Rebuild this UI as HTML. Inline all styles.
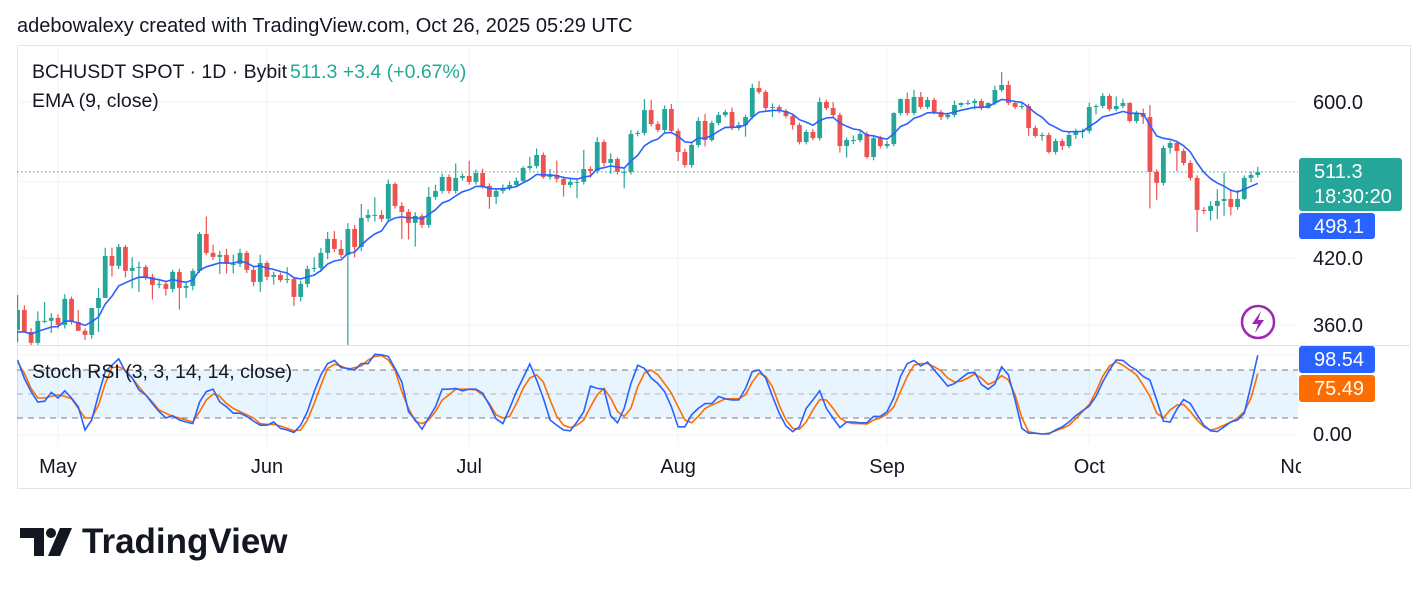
<!DOCTYPE html>
<html><head><meta charset="utf-8"><style>
body{margin:0;background:#fff;width:1428px;height:591px;overflow:hidden;font-family:"Liberation Sans",sans-serif}
svg{display:block}
text{font-family:"Liberation Sans",sans-serif}
</style></head><body>
<svg id="chart" width="1428" height="591" viewBox="0 0 1428 591">
<text x="17" y="32" font-size="20" fill="#131722">adebowalexy created with TradingView.com, Oct 26, 2025 05:29 UTC</text>
<rect x="17.5" y="45.5" width="1393" height="443" fill="none" stroke="#e0e3eb"/>
<g id="grid"></g>
<rect x="17" y="370" width="1281" height="48" fill="#2196f3" fill-opacity="0.1"/>
<line x1="17" x2="1298" y1="370" y2="370" stroke="#787b86" stroke-dasharray="6,5"/>
<line x1="17" x2="1298" y1="394" y2="394" stroke="#b2b5be" stroke-dasharray="6,5"/>
<line x1="17" x2="1298" y1="418" y2="418" stroke="#787b86" stroke-dasharray="6,5"/>
<line x1="17" x2="1411" y1="345.5" y2="345.5" stroke="#e0e3eb"/>
<g id="candles"></g>
<g id="lines"></g>
<text x="32" y="78" font-size="19.5" fill="#131722">BCHUSDT SPOT · 1D · Bybit</text>
<text x="290" y="78" font-size="19.5" fill="#22ab94">511.3  +3.4 (+0.67%)</text>
<text x="32" y="107" font-size="19.5" fill="#131722">EMA (9, close)</text>
<text x="32" y="378" font-size="19.5" fill="#131722">Stoch RSI (3, 3, 14, 14, close)</text>
<g id="axis"></g>
<circle cx="1258" cy="322" r="16" fill="#fff" stroke="#9c27b0" stroke-width="2.5"/>
<path d="M1261 311 L1252 324 L1258 324 L1255 333 L1264 320 L1258 320 Z" fill="#9c27b0"/>
<g>
<path d="M20 528 H44 V556 H34 V538 H20 Z" fill="#131722"/>
<circle cx="51" cy="533" r="5" fill="#131722"/>
<path d="M60 528 H72 L60 556 H48 Z" fill="#131722"/>
<text x="82" y="553" font-size="35" font-weight="bold" fill="#131722">TradingView</text>
</g>
</svg>
<script>
const firstOpen = 356.2;
const closes = [372.8,354.6,345.8,363.6,363.6,366.1,360.3,382.4,362.7,355.4,352.1,374.5,383.2,421.8,412.4,430.6,407.7,410.5,411.4,402.1,394.8,395.7,391.2,406.7,392.1,393.9,407.7,443.6,424.8,420.9,422.8,414.2,414.2,424.8,408.6,397.5,415.1,402.1,403.9,399.3,400.2,384.1,395.7,409.5,410.5,424.8,438.6,428.7,422.8,448.7,430.6,460.2,463.4,463.4,459.2,497.4,473.0,466.6,455.0,462.3,452.9,482.9,489.5,505.4,489.5,504.3,506.6,499.7,510.0,495.2,482.9,489.5,492.9,496.3,500.9,515.9,518.3,531.5,505.4,507.7,503.1,496.3,499.7,499.7,514.7,512.4,547.5,521.9,526.6,511.3,511.3,557.7,559.0,589.1,570.5,562.8,590.4,561.5,535.2,519.5,543.8,574.5,550.0,571.8,582.4,586.4,565.4,569.2,579.7,619.5,613.9,591.8,593.2,587.8,581.0,569.2,547.5,560.2,552.5,600.0,591.8,582.4,542.5,550.0,550.0,557.7,529.1,552.5,542.5,545.0,585.0,604.1,585.0,606.9,593.2,602.8,586.4,579.7,582.4,595.9,598.6,598.6,601.4,591.8,598.6,616.7,623.8,598.6,593.2,594.5,565.4,555.1,556.4,535.2,548.8,542.5,556.4,561.5,561.5,593.2,594.5,608.3,590.4,594.5,598.6,574.5,585.0,579.7,511.3,498.6,540.1,546.3,536.4,521.9,504.3,468.7,467.6,473.0,478.4,480.6,471.9,480.6,504.3,507.7,511.3];
const upperWick = [13,4,3,8,16,4,3,4,2,10,2,0,9,8,8,3,2,10,5,2,3,3,2,2,3,3,2,2,18,8,4,6,9,4,2,3,8,2,3,2,11,2,3,3,10,5,7,8,9,6,4,15,6,19,5,5,2,4,3,4,2,11,7,4,3,17,3,18,4,5,3,3,4,4,4,2,11,8,3,7,17,3,4,4,23,3,6,3,7,2,3,5,3,15,14,4,5,7,3,4,3,5,9,3,4,3,6,4,3,6,10,3,5,3,3,3,3,3,4,6,3,8,3,3,6,4,3,3,3,4,1,1,9,10,7,4,3,3,3,6,1,4,3,3,1,6,19,6,3,5,3,3,3,3,3,3,3,3,3,6,2,4,3,13,6,1,3,6,16,3,3,3,3,3,3,3,3,5,13,30,11,10,3,4,6];
const lowerWick = [10,0,4,3,2,10,3,3,2,0,4,3,20,0,10,3,6,16,22,3,13,3,6,3,19,9,4,2,2,3,16,9,9,3,3,4,9,3,7,2,3,8,4,3,3,4,6,3,3,79,10,4,4,7,3,3,3,28,17,24,3,3,3,3,3,3,3,3,3,3,13,8,3,3,3,3,3,3,2,3,4,13,3,18,3,8,3,4,13,3,19,3,3,3,3,3,3,3,11,3,3,3,8,2,3,3,3,3,15,3,3,3,12,3,3,6,3,3,3,3,3,3,8,14,5,3,2,4,3,3,3,3,3,3,3,3,3,4,3,3,3,3,9,3,1,3,3,3,3,3,10,2,6,2,3,5,3,5,9,3,10,3,3,3,3,2,3,9,41,19,3,7,24,3,3,23,3,10,14,16,9,3,1,5,3];
const stochK = [92.5,69.6,53,40,41,52,45,54,45,34,5,17.5,49,78,86,94,78,70,55,49,38,28,20,23,17.5,15,13,40,53,56,40,34,26,26,22,16,11,11,15,7,5,2,11,28,53,74,88,92,83,82,80,88,88,99.6,99,97,82,65,28,17.5,6,20,34,56,56,57,54,56,56,51,36,19,13,32,53,70,87.5,67.5,45,17.5,11,5,4,15,28,60,57,56,23,14,32,63,86,82,70,63,53,34,9,9,24,32,38,38,47,44,42.5,42.5,57,78,80,70,47,26,10,3,9,32,42.5,54,32,20,8,15,15,14,14,22,22,28,45,72,88,92,85,90,80,70,60,63,69.6,76,77,62,56,62.5,84,74,42.5,7,1,1,0,0,5,9,15,23,29,35,47,65,80,92.5,92,85,80,72,67.5,42.5,16,15,31,43,38,24,11,4,3,9,15,17.5,26,61,98.54];
const stochD = [90,76,57,45,45,47,49,47,44,32,20,20,36,63,83,84,80,70,59,49,40,30,26,22,20,17.5,15,28,42.5,50,47,38,32,28,24,20,13,12,12,10,7,4,5,17.5,38,61,82,87,85,81,83,85,92.5,97,98,92.5,80,53,32,16,13,17.5,28,42.5,49,56,56,56,55,49,38,24,20,22,38,57,70,74,65,42.5,22,11,8,11,17.5,34,49,57,45,28,22,32,59,76,80,74,63,51,34,17.5,14,22,32,36,40,44,44,44,49,65,76,72,59,36,17.5,7,6,15,30,43,42.5,32,20,15,13,13,12.5,17.5,20,25,34,53,72,86,88,88,84,79,70,65,66,70,75,70,62,65.5,73,67.5,49,20,3,1,0,1,4,7,11,19,28,37,53,72,85,90,86,80,74,61,47,26,20,30,36,37,28,17.5,9,5,7,11,15,20,28,45,75.49];
const priceTicks = [600, 420, 360];
const priceTickLabels = ["600.0", "420.0", "360.0"];
const gridPrices = [600, 500, 420, 360];
const monthLabels = ["May","Jun","Jul","Aug","Sep","Oct","Nov"];
const monthIndex = [6, 37, 67, 98, 129, 159, 190];
const emaSeed = 350;

const NS = "http://www.w3.org/2000/svg";
const X0 = 17.6, DX = 6.74, RIGHT = 1298;
function xAt(i){ return X0 + DX*i; }
function yPrice(p){ return 102 - 437*Math.log(p/600); }
function yStoch(v){ return 434 - v*0.8; }
function mk(tag, attrs, parent){ const e=document.createElementNS(NS,tag); for(const k in attrs) e.setAttribute(k,attrs[k]); parent.appendChild(e); return e; }

const grid = document.getElementById('grid');
gridPrices.forEach(p=>{
  const l = mk('line',{x1:17,x2:RIGHT,y1:yPrice(p),y2:yPrice(p),stroke:'#f0f3fa'},grid);
  
  
});
[100,0].forEach(v=>{
  const l = mk('line',{x1:17,x2:RIGHT,y1:yStoch(v)+1,y2:yStoch(v)+1,stroke:'#f0f3fa'},grid);
  
  
});
monthIndex.forEach(i=>{
  if (xAt(i) > RIGHT) return;
  const l = mk('line',{x1:xAt(i),x2:xAt(i),y1:46,y2:445,stroke:'#f0f3fa'},grid);
  
  
});
const lp = mk('line',{x1:17,x2:RIGHT,y1:yPrice(closes[closes.length-1]),y2:yPrice(closes[closes.length-1]),stroke:'#22ab94','stroke-dasharray':'1.5,2.5'},grid);



const cg = document.getElementById('candles');
const clip = mk('clipPath',{id:'pc'},cg); mk('rect',{x:17,y:46,width:RIGHT-17,height:299},clip);
const cgi = mk('g',{'clip-path':'url(#pc)'},cg);
closes.forEach((c,i)=>{
  const o = i===0 ? firstOpen : closes[i-1];
  const up = c >= o;
  const col = up ? '#26a69a' : '#ef5350';
  const hi = Math.max(o,c) + upperWick[i], lo = Math.min(o,c) - lowerWick[i];
  const x = xAt(i);
  const w = mk('line',{x1:x,x2:x,y1:yPrice(hi),y2:yPrice(lo),stroke:col,'stroke-width':1.2},cgi);
  
  
  const yt = yPrice(Math.max(o,c)), yb = yPrice(Math.min(o,c));
  const b = mk('rect',{x:x-2.4,y:yt,width:4.8,height:Math.max(1,yb-yt),fill:col},cgi);
  
  
});

const lg = document.getElementById('lines');
let ema = emaSeed; const k = 2/10; const emaPts = [];
closes.forEach((c,i)=>{ ema = c*k + ema*(1-k); emaPts.push(xAt(i).toFixed(1)+','+yPrice(ema).toFixed(1)); });
const emaLine = mk('polyline',{points:emaPts.join(' '),fill:'none',stroke:'#2962ff','stroke-width':1.6,'clip-path':'url(#pc)'},lg);


const emaLast = ema;
const clip2 = mk('clipPath',{id:'sc'},lg); mk('rect',{x:17,y:346,width:RIGHT-17,height:100},clip2);
const dl = mk('polyline',{points:stochD.map((v,i)=>xAt(i).toFixed(1)+','+yStoch(v).toFixed(1)).join(' '),fill:'none',stroke:'#ff6d00','stroke-width':1.6,'clip-path':'url(#sc)'},lg);


const kl = mk('polyline',{points:stochK.map((v,i)=>xAt(i).toFixed(1)+','+yStoch(v).toFixed(1)).join(' '),fill:'none',stroke:'#2962ff','stroke-width':1.6,'clip-path':'url(#sc)'},lg);



const ax = document.getElementById('axis');
priceTicks.forEach((p,j)=>{
  const t = mk('text',{x:1313,y:yPrice(p)+7,'font-size':20,fill:'#131722'},ax);
  t.textContent = priceTickLabels[j];
  
  
});
const z = mk('text',{x:1313,y:441,'font-size':20,fill:'#131722'},ax);
z.textContent = '0.00';


const mclip = mk('clipPath',{id:'mc'},ax); mk('rect',{x:17,y:446,width:1284,height:40},mclip);
monthLabels.forEach((m,j)=>{
  const t = mk('text',{x:xAt(monthIndex[j]),y:473,'font-size':20,'text-anchor':'middle',fill:'#131722','clip-path':'url(#mc)'},ax);
  t.textContent = m;
  
  
});
function badge(y,h,w,col,lines,name){
  const g = mk('g',{},ax);
  
  
  mk('rect',{x:1299,y:y,width:w,height:h,rx:3,fill:col},g);
  lines.forEach((s,i)=>{ const t=mk('text',{x:1314,y:y+20+i*25,'font-size':20,fill:'#fff'},g); t.textContent=s; });
}
const lastC = closes[closes.length-1];
badge(158,53,103,'#26a69a',[lastC.toFixed(1),'18:30:20'],'last-price-badge');
badge(213,26,76,'#2962ff',[emaLast.toFixed(1)],'ema-value-badge');
badge(346,27,76,'#2962ff',[stochK[stochK.length-1].toFixed(2)],'stoch-k-badge');
badge(375,27,76,'#ff6d00',[stochD[stochD.length-1].toFixed(2)],'stoch-d-badge');
</script>
</body></html>
